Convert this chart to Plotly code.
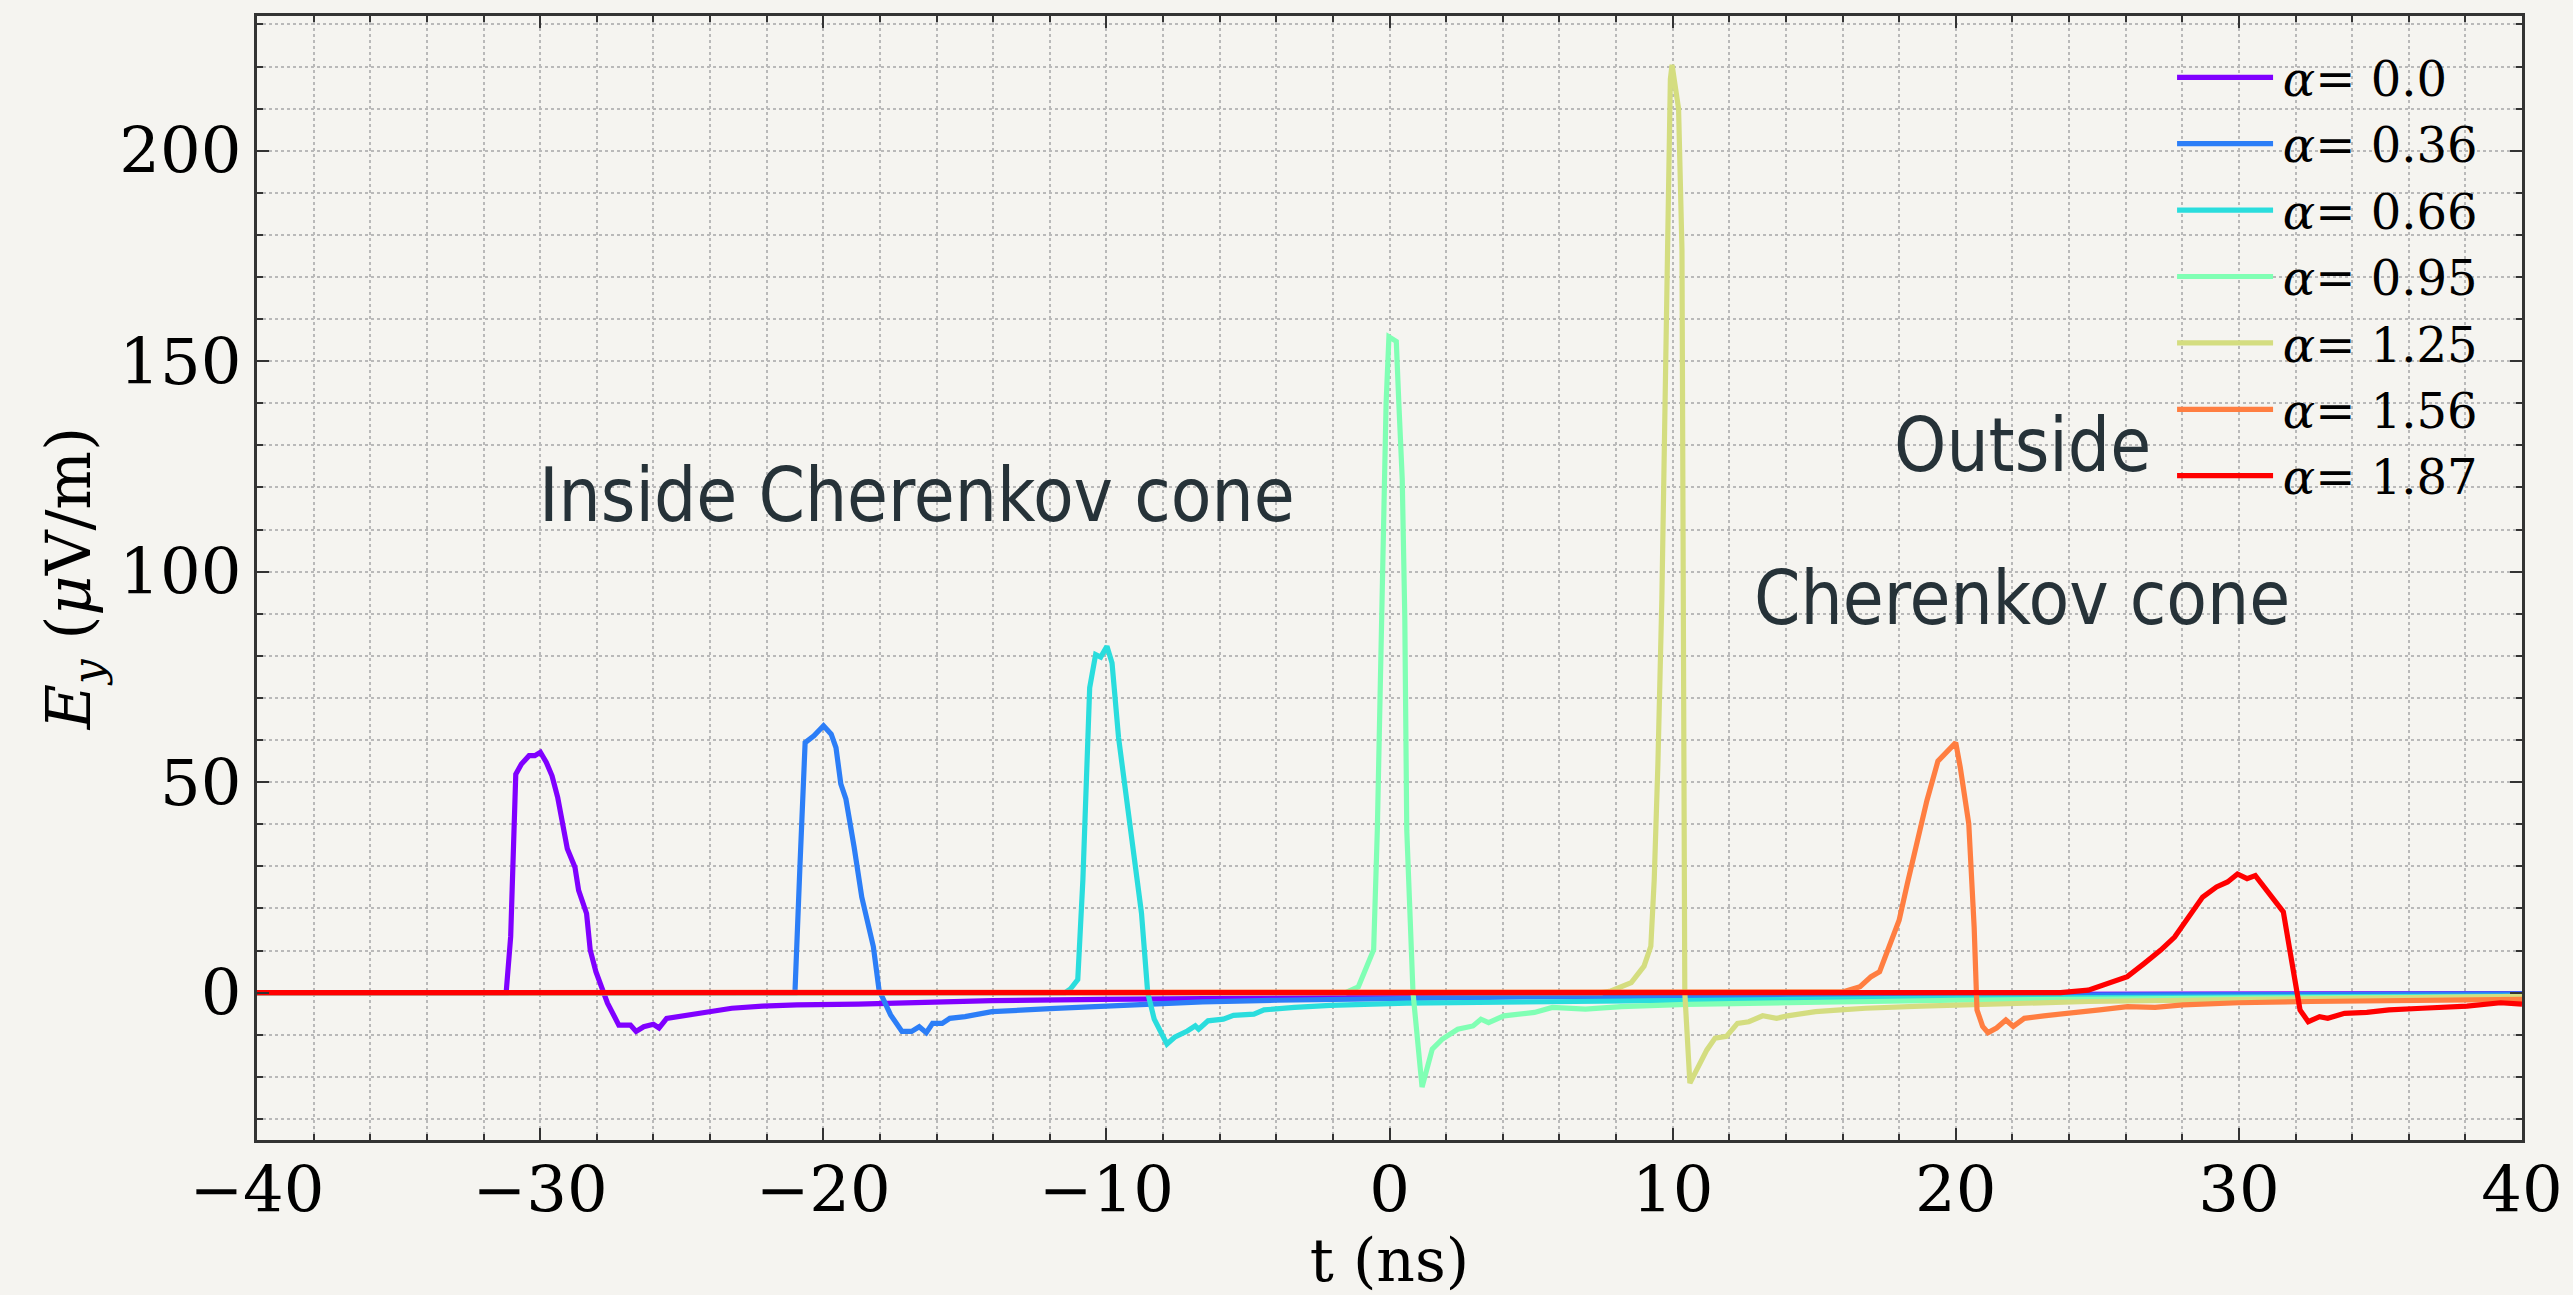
import plotly.graph_objects as go

# Radio pulses E_y(t) at several off-axis angles alpha (deg)
labels = ["0.0", "0.36", "0.66", "0.95", "1.25", "1.56", "1.87"]
colors = ["#8000ff", "#2c7ef7", "#2adddd", "#80ffb4", "#d4dd80", "#ff7e41", "#ff0000"]

t_a000 = [-40, -31.2, -31.04, -30.86, -30.66, -30.39, -30.19, -29.99, -29.78, -29.58, -29.38, -29.18,
          -29.04, -28.77, -28.64, -28.36, -28.23, -28.03, -27.76, -27.62, -27.22, -26.81, -26.61, -26.34,
          -26.0, -25.8, -25.53, -24.99, -24.18, -23.23, -22.15, -20.93, -18.77, -17.42, -14.04, -10.2,
          -6.0, 0, 5, 10, 20, 30, 40]
e_a000 = [0, 0, 13.3, 51.9, 54.3, 56.3, 56.3, 57.1, 54.7, 51.5, 46.4, 38.5,
          34.2, 29.8, 24.3, 18.8, 10.1, 5.0, -0.2, -2.5, -7.7, -7.7, -9.2, -8.1,
          -7.5, -8.4, -6.1, -5.5, -4.9, -3.7, -3.2, -2.9, -2.7, -2.4, -1.9, -1.6,
          -1.3, -1.0, -0.8, -0.6, -0.4, -0.3, -0.2]

t_a036 = [-40, -21.0, -20.82, -20.64, -20.33, -19.99, -19.72, -19.55, -19.38, -19.2, -18.91, -18.64,
          -18.23, -18.03, -17.62, -17.22, -16.88, -16.61, -16.36, -16.14, -15.8, -15.53, -14.99, -14.04,
          -12.0, -10.2, -8.0, -6.6, -4, 0, 5, 10, 20, 30, 40]
e_a036 = [0, 0, 30.6, 59.4, 61.0, 63.4, 61.4, 58.2, 49.6, 46.0, 34.6, 22.7,
          10.9, 0.6, -5.3, -9.2, -9.2, -8.1, -9.5, -7.3, -7.3, -6.1, -5.7, -4.5,
          -3.8, -3.3, -2.6, -2.2, -1.8, -1.4, -1.0, -0.8, -0.6, -0.4, -0.3]

t_a066 = [-40, -11.46, -11.28, -11.01, -10.83, -10.59, -10.38, -10.2, -9.98, -9.8, -9.57, -9.3,
          -9.03, -8.76, -8.54, -8.31, -7.86, -7.59, -7.14, -6.86, -6.74, -6.41, -5.87, -5.51,
          -4.79, -4.43, -3.35, -2.09, 0.61, 4.22, 9.6, 14.1, 20, 30, 40]
e_a066 = [0, 0, 0.8, 3.1, 26.8, 72.4, 80.3, 79.7, 82.3, 78.3, 60.6, 46.5,
          33.9, 18.9, 0, -6.3, -12.2, -10.6, -9.1, -7.9, -8.7, -6.7, -6.3, -5.4,
          -5.1, -4.1, -3.5, -3.0, -2.5, -2.2, -2.0, -1.6, -1.3, -1.0, -0.8]

t_a095 = [-40, -1.55, -1.1, -0.79, -0.56, -0.43, -0.28, -0.2, -0.12, -0.02, 0.24, 0.33,
          0.45, 0.54, 0.61, 0.83, 1.15, 1.51, 1.87, 2.41, 2.95, 3.23, 3.5, 4.04,
          5.12, 5.75, 6.92, 8.18, 10.5, 14.1, 20, 30, 40]
e_a095 = [0, 0, 1.4, 6.3, 10.2, 38.6, 89.3, 112.9, 140, 155.8, 154.7, 140,
          122, 89.3, 38.6, 0, -22.4, -13.4, -11, -8.7, -7.9, -6.3, -7.1, -5.5,
          -4.7, -3.5, -3.9, -3.3, -2.8, -2.4, -1.8, -1.3, -1.0]

t_a125 = [-40, 7.5, 7.82, 8.54, 8.99, 9.23, 9.35, 9.48, 9.62, 9.74, 9.84, 9.92,
          9.98, 10.21, 10.33, 10.39, 10.43, 10.61, 10.95, 11.21, 11.5, 11.9, 12.29, 12.69,
          13.18, 13.67, 14.06, 15.05, 15.93, 16.82, 18.78, 20.75, 24.68, 30.58, 40]
e_a125 = [0, 0, 0.4, 2.4, 6.3, 11, 26.8, 54.3, 93.7, 149, 194.7, 217,
          220.4, 210, 176.5, 89.3, 0, -21.5, -17, -13.6, -10.8, -10.4, -7.3, -6.9,
          -5.5, -6.1, -5.5, -4.5, -4.1, -3.7, -3.2, -2.9, -2.1, -1.6, -0.9]

t_a156 = [-40, 15.64, 16.03, 16.62, 17.01, 17.31, 17.7, 18.0, 18.29, 18.69, 18.98, 19.37,
          19.67, 20.0, 20.16, 20.46, 20.65, 20.75, 20.95, 21.14, 21.44, 21.77, 22.03, 22.42,
          23.11, 24.09, 25.08, 26.06, 27.04, 28.03, 30.0, 32.55, 36.48, 40]
e_a156 = [0, 0, 0.2, 1.4, 3.8, 5.0, 11.7, 17.2, 25.9, 36.9, 45.6, 55.0,
          57.0, 59.4, 53.5, 40.1, 15.6, -4.1, -8.0, -9.5, -8.4, -6.5, -8.0, -6.1,
          -5.5, -4.9, -4.1, -3.3, -3.5, -2.9, -2.4, -2.1, -1.7, -1.6]

t_a187 = [-40, 23.7, 24.68, 25.47, 26.06, 26.65, 27.24, 27.73, 28.22, 28.72, 29.21, 29.6,
          29.95, 30.29, 30.58, 30.98, 31.57, 31.86, 32.16, 32.45, 32.85, 33.14, 33.73, 34.52,
          35.3, 36.48, 38.06, 39.24, 40]
e_a187 = [0, 0, 0.6, 2.6, 3.8, 6.9, 10.1, 13.2, 18.0, 22.7, 25.1, 26.3,
          28.2, 27.1, 27.8, 24.3, 19.2, 7.7, -4.1, -6.9, -5.7, -6.1, -4.9, -4.7,
          -4.1, -3.7, -3.2, -2.4, -2.7]

series_t = [t_a000, t_a036, t_a066, t_a095, t_a125, t_a156, t_a187]
series_e = [e_a000, e_a036, e_a066, e_a095, e_a125, e_a156, e_a187]

x_ticks = [-40, -30, -20, -10, 0, 10, 20, 30, 40]
y_ticks = [0, 50, 100, 150, 200]

BG = "#f5f4f0"
INK = "#263238"
SERIF = "DejaVu Serif, Liberation Serif, serif"
NARROW = "Liberation Sans Narrow, DejaVu Sans Condensed, Roboto, sans-serif"

fig = go.Figure()
for i, (lab, col) in enumerate(zip(labels, colors)):
    fig.add_trace(go.Scatter(
        x=series_t[i], y=series_e[i], mode="lines",
        line=dict(color=col, width=5.2),
        name=f"\u200a<i>α</i>= {lab}", legendgroup=f"g{i}",
    ))

grid = dict(showgrid=True, gridcolor="#b9b9b9", gridwidth=1.5, griddash="dot")
axis_common = dict(
    showline=True, linecolor="#333333", linewidth=2.5, mirror="allticks",
    ticks="inside", ticklen=12, tickwidth=2, tickcolor="#333333",
    tickfont=dict(family=SERIF, size=64, color="black"),
    zeroline=False, automargin=False, **grid,
)

fig.update_xaxes(
    range=[-40, 40], tickvals=x_ticks,
    minor=dict(dtick=2, ticks="inside", ticklen=6, tickwidth=1.5, tickcolor="#333333",
               showgrid=True, gridcolor="#b9b9b9", gridwidth=1.5, griddash="dot"),
    title=dict(text="t (ns)", font=dict(family=SERIF, size=60, color="black"), standoff=11),
    ticklabelstandoff=-8,
    **axis_common,
)
fig.update_yaxes(
    range=[-35, 232], tickvals=y_ticks,
    minor=dict(dtick=10, ticks="inside", ticklen=6, tickwidth=1.5, tickcolor="#333333",
               showgrid=True, gridcolor="#b9b9b9", gridwidth=1.5, griddash="dot"),
    title=dict(text="<i>E</i><sub><i>y</i></sub> (<i>μ</i>V/m)",
               font=dict(family=SERIF, size=62, color="black"), standoff=9),
    ticklabelstandoff=0,
    **axis_common,
)

fig.add_annotation(x=-16.7, y=118.2, text="Inside Cherenkov cone", showarrow=False,
                   font=dict(family=NARROW, size=74, color=INK))
fig.add_annotation(x=22.35, y=130.0, text="Outside", showarrow=False,
                   font=dict(family=NARROW, size=74, color=INK))
fig.add_annotation(x=22.35, y=93.8, text="Cherenkov cone", showarrow=False,
                   font=dict(family=NARROW, size=74, color=INK))

fig.update_layout(
    width=2573, height=1295,
    margin=dict(l=257, r=51, t=16, b=155, autoexpand=False),
    paper_bgcolor=BG, plot_bgcolor=BG,
    showlegend=True,
    legend=dict(x=0.8455, y=0.979, xanchor="left", yanchor="top",
                bgcolor="rgba(0,0,0,0)", borderwidth=0,
                font=dict(family=SERIF, size=48, color="black"),
                itemwidth=96, tracegroupgap=1),
)

fig.write_html("out.html")
